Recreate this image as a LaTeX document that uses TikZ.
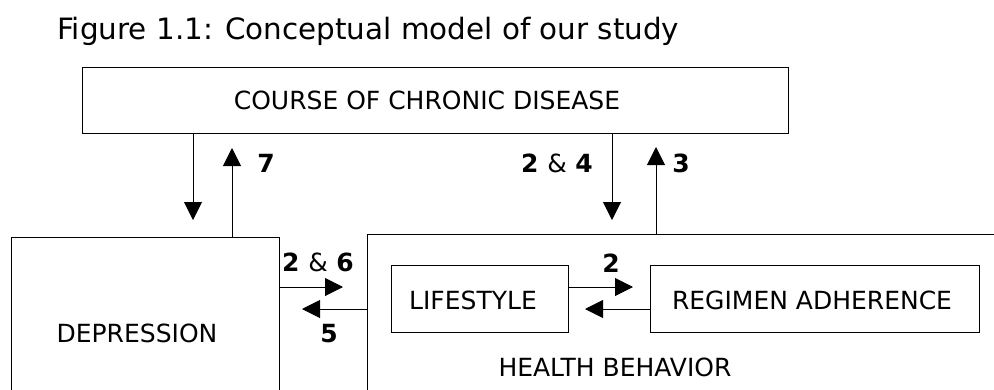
\documentclass[tikz,border=0pt]{standalone}
\usepackage{fontspec}
\setmainfont{DejaVu Sans}
\usetikzlibrary{arrows.meta}
\begin{document}
\begin{tikzpicture}[x=1pt,y=-1pt,
  box/.style={draw, line width=1.2pt, inner sep=0pt, anchor=north west},
  lbl/.style={font=\fontsize{25}{28}\selectfont, inner sep=0pt},
  num/.style={font=\fontsize{25}{28}\selectfont\bfseries, inner sep=0pt},
  arr/.style={line width=1pt, -{Triangle[length=18pt,width=18pt]}}]
\useasboundingbox (0,0) rectangle (994,389);
\clip (0,0) rectangle (994,389);
\node[anchor=base west, inner sep=0pt, font=\fontsize{29.4}{33}\selectfont] (title) at (57,39) {Figure 1.1: Conceptual model of our study};
% boxes
\node[box, minimum width=706pt, minimum height=66pt] (course) at (82,67) {};
\node[lbl] (coursetxt) at (427,100) {COURSE OF CHRONIC DISEASE};
\node[box, minimum width=268pt, minimum height=200pt] (dep) at (11,237) {};
\node[lbl] (deptxt) at (137,333) {DEPRESSION};
\node[box, minimum width=660pt, minimum height=200pt] (health) at (367,234) {};
\node[lbl] (healthtxt) at (615,367) {HEALTH BEHAVIOR};
\node[box, minimum width=177pt, minimum height=67pt] (life) at (391,265) {};
\node[lbl] (lifetxt) at (473,300) {LIFESTYLE};
\node[box, minimum width=329pt, minimum height=67pt] (reg) at (650,265) {};
\node[lbl] (regtxt) at (812,300) {REGIMEN ADHERENCE};
% arrow end coordinates
\coordinate (a1) at (193,220);
\coordinate (a2) at (232,148);
\coordinate (a3) at (612,220);
\coordinate (a4) at (656,147);
\coordinate (a5) at (343,287);
\coordinate (a6) at (302,309);
\coordinate (a7) at (633,287);
\coordinate (a8) at (585,309);
% connectors
\draw[arr] (course.south -| a1) -- (a1);
\draw[arr] (dep.north -| a2) -- (a2);
\draw[arr] (course.south -| a3) -- (a3);
\draw[arr] (health.north -| a4) -- (a4);
\draw[arr] (dep.east |- a5) -- (a5);
\draw[arr] (health.west |- a6) -- (a6);
\draw[arr] (life.east |- a7) -- (a7);
\draw[arr] (reg.west |- a8) -- (a8);
% labels
\node[num] (l7) at (266,163) {7};
\node[num] (l24) at (557,163) {2 {\mdseries\&} 4};
\node[num] (l3) at (681,163) {3};
\node[num] (l26) at (318,262) {2 {\mdseries\&} 6};
\node[num] (l5) at (329,334) {5};
\node[num] (l2) at (611,263) {2};
\end{tikzpicture}
\end{document}
